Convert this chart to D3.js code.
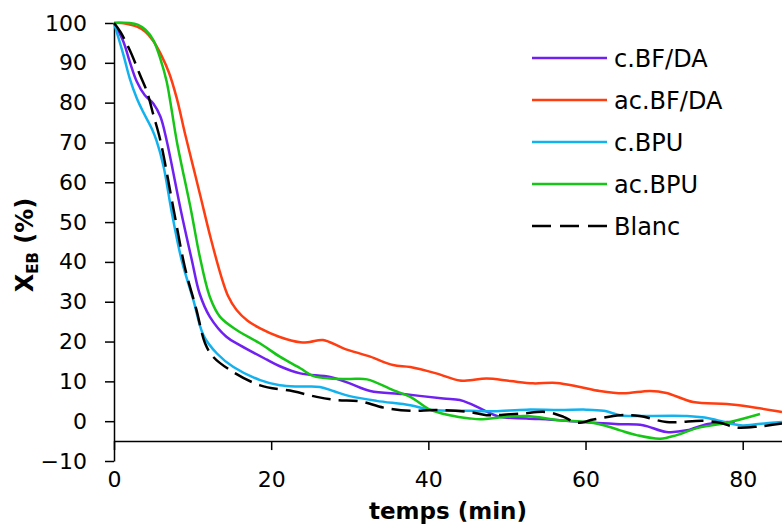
<!DOCTYPE html>
<html>
<head>
<meta charset="utf-8">
<script src="https://cdn.jsdelivr.net/npm/d3@7"></script>
<style>
  html, body { margin: 0; padding: 0; background: #fff; }
  svg { display: block; }
  text { font-family: "DejaVu Sans", sans-serif; fill: #000; }
</style>
</head>
<body>
<svg id="chart" width="782" height="524"></svg>
<script>
// ---- data ----
const seriesNames = ["c.BF/DA", "ac.BF/DA", "c.BPU", "ac.BPU", "Blanc"];
const seriesColors = ["#7020F0", "#FF3D10", "#12B2EE", "#16C616", "#000000"];

const tPurple = [0,1.2,2,2.9,3.9,5,5.9,6.7,8.5,9.9,10.9,12.2,14.3,16,19.4,21.1,23.7,27.5,30,32.6,36.8,41.9,44,45.3,46.6,49.1,52.5,56.7,61,64.4,67.3,70.3,72.9,75.4,78,79];
const vPurple = [100,95.3,90.3,85.3,81.9,79.8,76.5,70.5,53,40.5,32,26.2,21.2,19.1,15.5,13.8,12,11.1,9.5,7.6,6.8,5.7,5.3,4.4,3.2,1.1,0.7,0.25,-0.4,-0.75,-1,-2.7,-2.3,-0.75,-0.2,-0.3];

const tRed = [0,1,2,3,4,5,6,7,8,9,10,11,12.3,13.7,14.5,15.6,17,18.6,21,23.7,24.9,26.6,29.2,32.6,35.5,37.7,41,44,45.3,47.4,50.4,53.3,56.3,59.3,61.8,64.8,68.2,70.3,73.7,78,80.9,85];
const vRed = [100,100,99.6,99,97.8,95.5,92,87.5,81,72.5,64.5,56.5,46,36,31.5,27.9,25.2,23.3,21.2,19.8,19.9,20.4,18.3,16.2,14.1,13.6,12,10.2,10.3,10.7,10.1,9.5,9.6,8.6,7.6,7,7.6,7.1,4.8,4.3,3.6,2.3];

const tBlue = [0,1.2,2,2.9,3.7,4.8,5.4,6.3,7.3,8.6,10.1,11.4,13.1,15.2,18.6,21.1,23.7,26.2,28,30,33.4,37.7,40.2,45.3,48.3,52.5,56.7,60.1,62.3,64.4,65.6,72.9,75.8,78.4,80,82,85];
const vBlue = [100,92,86.1,81.1,77.7,73.5,70.5,64,53,40.5,30.4,21.5,17,13.6,10.3,9,8.7,8.6,7.5,6.3,5.1,4,2.9,2.6,2.5,2.9,2.8,2.9,2.6,1.5,1.3,1.3,0.7,-0.6,-1.1,-0.7,-0.2];

const tGreen = [0,2,3,4,5,5.9,6.7,7.3,8,9.8,10.9,12.2,13.5,15.6,18.6,21.1,23.7,25.4,27.5,30,32.2,35.5,37.7,40.2,42.7,45.3,46.6,50,52.5,56.7,60.1,62.3,64.4,66.5,69.5,71.6,74.1,78,82.2];
const vGreen = [100,100,99.6,98.3,95.7,91,85.3,78.6,70.2,53,41.5,31.2,26.2,22.9,19.5,16.2,13.3,11.3,10.7,10.6,10.5,7.8,6.1,2.9,1.5,0.7,0.5,1.1,1.3,0.25,-0.2,-1,-2.3,-3.5,-4.4,-3.5,-1.8,-0.4,1.8];

const tBlanc = [0,0.8,2,3.3,4.2,5,5.9,7.6,9,10.5,11.6,12.6,14.8,18.6,22.8,25.8,28.3,31.3,34.3,37.7,41,45.3,47.4,51.7,55,57.2,58.9,61,64.4,66.9,70.3,75,77.1,79.2,82.2,85];
const vBlanc = [100,97.8,93.2,87,82.7,77,70.5,53,38.8,27.9,19.5,16.2,12.8,9,7.5,6.1,5.3,5,3.4,2.6,2.8,2.3,1.5,1.9,2.3,1.1,-0.4,0.4,1.5,1.3,-0.2,0.1,-0.4,-1.6,-1.3,-0.6];

const xTicks = [0, 20, 40, 60, 80];
const yTicks = [-10, 0, 10, 20, 30, 40, 50, 60, 70, 80, 90, 100];
const xTitle = "temps (min)";

// ---- build ----
const seriesT = [tPurple, tRed, tBlue, tGreen, tBlanc];
const seriesV = [vPurple, vRed, vBlue, vGreen, vBlanc];
const series = seriesNames.map((name, i) => ({
  name, color: seriesColors[i], dashed: name === "Blanc",
  points: seriesT[i].map((t, j) => ({ t, v: seriesV[i][j] }))
}));

const svg = d3.select("#chart");
const x = d3.scaleLinear().domain([0, 85]).range([114, 782]);
const y = d3.scaleLinear().domain([-10, 100]).range([461, 23]);

// y axis
const yAxis = svg.append("g").attr("transform", `translate(${x(0)},0)`)
  .call(d3.axisLeft(y).tickValues(yTicks).tickFormat(d3.format("d")).tickSize(9).tickSizeOuter(0).tickPadding(18));
yAxis.selectAll("path, line").attr("stroke", "#000").attr("stroke-width", 1.5);
yAxis.selectAll("text").attr("font-size", 22).attr("font-family", "DejaVu Sans").attr("fill", "#000");

// x axis at y = -5
const xAxis = svg.append("g").attr("transform", `translate(0,${y(-5)})`)
  .call(d3.axisBottom(x).tickValues(xTicks).tickFormat(d3.format("d")).tickSize(9).tickSizeOuter(0).tickPadding(21));
xAxis.selectAll("path, line").attr("stroke", "#000").attr("stroke-width", 1.5);
xAxis.selectAll("text").attr("font-size", 22).attr("font-family", "DejaVu Sans").attr("fill", "#000");

// lines
const line = d3.line().x(d => x(d.t)).y(d => y(d.v)).curve(d3.curveCatmullRom.alpha(0.5));
svg.append("g").selectAll("path").data(series).join("path")
  .attr("d", d => line(d.points))
  .attr("fill", "none")
  .attr("stroke", d => d.color)
  .attr("stroke-width", 2.5)
  .attr("stroke-dasharray", d => d.dashed ? "19,8" : null);

// legend
const leg = svg.append("g");
const rows = leg.selectAll("g").data(series).join("g")
  .attr("transform", (d, i) => `translate(532,${58 + i * 42})`);
rows.append("line").attr("x1", 0).attr("x2", 75).attr("y1", 0).attr("y2", 0)
  .attr("stroke", d => d.color).attr("stroke-width", 2.5)
  .attr("stroke-dasharray", d => d.dashed ? "19,9" : null);
rows.append("text").attr("x", 82).attr("y", 8.5).attr("font-size", 24).text(d => d.name);

// axis titles
svg.append("text").attr("x", 448).attr("y", 519).attr("text-anchor", "middle")
  .attr("font-size", 23).attr("font-weight", "bold").text(xTitle);

const yt = svg.append("text").attr("transform", "translate(33,245) rotate(-90)")
  .attr("text-anchor", "middle").attr("font-size", 24).attr("font-weight", "bold");
yt.append("tspan").text("X");
yt.append("tspan").attr("font-size", 15).attr("dy", 5).text("EB");
yt.append("tspan").attr("dy", -5).text(" (%)");
</script>
</body>
</html>
